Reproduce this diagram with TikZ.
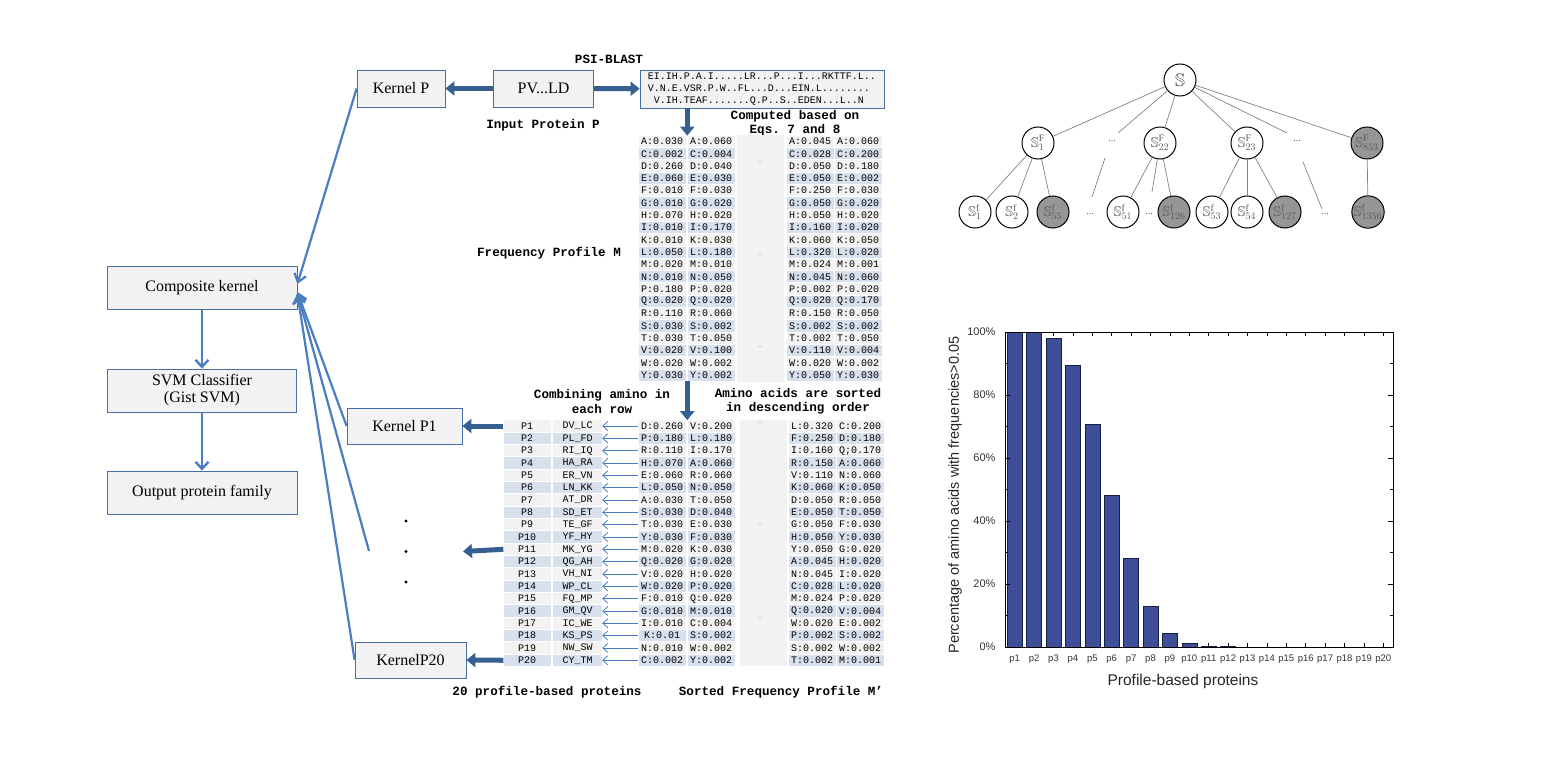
\documentclass[tikz,border=0pt]{standalone}
\usepackage{amssymb}
\usepackage{fontspec}
\setmainfont{Liberation Serif}
\setsansfont{Liberation Sans}
\setmonofont{Liberation Mono}
\usepackage{tikz}
\usetikzlibrary{arrows.meta,positioning}

\definecolor{BoxFill}{RGB}{242,242,242}
\definecolor{BoxLine}{RGB}{70,110,165}
\definecolor{FlowBlue}{RGB}{74,126,193}
\definecolor{FatBlue}{RGB}{55,96,146}
\definecolor{CellGray}{RGB}{242,242,242}
\definecolor{CellBlue}{RGB}{216,224,238}
\definecolor{SetGray}{RGB}{150,150,150}
\definecolor{SetText}{RGB}{90,90,90}
\definecolor{TieGray}{RGB}{130,130,130}
\definecolor{BarBlue}{RGB}{61,77,152}

\begin{document}
\begin{tikzpicture}[x=1pt,y=-1pt]
	\tikzstyle{Box}		= [draw=BoxLine, fill=BoxFill, line width=0.8pt, minimum height=36pt, inner sep=0pt, align=center, font=\fontsize{16}{17}\selectfont]
	\tikzstyle{Cell}	= [minimum width=47pt, minimum height=11.3pt, inner sep=0pt, font=\fontsize{10}{11}\ttfamily]
	\tikzstyle{Caption}	= [align=center, font=\fontsize{12.6}{14.5}\ttfamily\bfseries]
	\tikzstyle{Gap}		= [fill=CellGray, minimum width=47pt, minimum height=246pt, inner sep=0pt]
	\tikzstyle{Ellip}	= [text=gray, font=\fontsize{6}{6}\selectfont]
	\tikzstyle{Flow}	= [FlowBlue, line width=2.4pt, -{Straight Barb[length=7pt,width=13pt]}]
	\tikzstyle{Link}	= [FlowBlue, line width=2.2pt, -{Straight Barb[length=8pt,width=12pt]}]
	\tikzstyle{Fat}		= [FatBlue, line width=5pt, -{Triangle[length=9pt,width=14pt]}]
	\tikzstyle{Tiny}	= [FlowBlue, line width=0.8pt, -{Straight Barb[length=5pt,width=9pt]}]
	\tikzstyle{Set}		= [circle, draw, line width=1pt, fill=white, minimum size=32pt, inner sep=0pt, text=SetText, font=\fontsize{14}{14}\selectfont]
	\tikzstyle{Hit}		= [fill=SetGray]
	\tikzstyle{Tie}		= [TieGray, line width=0.7pt]
	\tikzstyle{More}	= [text=SetText, font=\fontsize{10}{10}\selectfont]
	\tikzstyle{Axis}	= [text=black!80, font=\fontsize{11}{11}\sffamily]

	\useasboundingbox (0,0) rectangle (1557,778);

	% pipeline
	\node (comp) at (202,288) [Box, minimum width=190pt, minimum height=43pt] {Composite kernel};
	\node (svm) at (202,390.5) [Box, minimum width=189pt, minimum height=43pt] {SVM Classifier\\(Gist SVM)};
	\node (out) at (202,492.5) [Box, minimum width=190pt, minimum height=43pt] {Output protein family};
	\draw [Flow] (comp) -- (svm);
	\draw [Flow] (svm) -- (out);

	% input protein and kernels
	\node (kp) at (401,88.5) [Box, minimum width=88pt, minimum height=37pt] {Kernel P};
	\node (seq) at (543.5,88.5) [Box, minimum width=100pt, minimum height=37pt] {PV...LD};
	\node (msa) at (762,89) [Box, minimum width=244pt, minimum height=38pt, align=left, font=\fontsize{10}{12.3}\ttfamily]
		{EI.IH.P.A.I.....LR...P...I...RKTTF.L..\\V.N.E.VSR.P.W..FL...D...EIN.L........\\\hphantom{V}V.IH.TEAF.......Q.P..S..EDEN...L..N};
	\node (kp1) at (404.5,426) [Box, minimum width=115pt] {Kernel P1};
	\node (kp20) at (410.5,660) [Box, minimum width=111pt] {KernelP20};
	\node (d1) at (406,521) [circle, fill, inner sep=1.2pt] {};
	\node (d2) at (406,551.5) [circle, fill, inner sep=1.2pt] {};
	\node (d3) at (406,582) [circle, fill, inner sep=1.2pt] {};
	\coordinate (gap) at (369,551);

	\node (psi) at (609,59) [Caption] {PSI-BLAST};
	\node (inp) at (543,125) [Caption] {Input Protein P};
	\node (eqs) at (795,123) [Caption, font=\fontsize{12.6}{13.5}\ttfamily\bfseries] {Computed based on\\Eqs. 7 and 8};
	\node (fpm) at (549,253) [Caption] {Frequency Profile M};
	\node (comb) at (602,401.5) [Caption] {Combining amino in\\each row};
	\node (sort) at (798,401.5) [Caption] {Amino acids are sorted\\in descending order};
	\node (twenty) at (547,692) [Caption] {20 profile-based proteins};
	\node (sfpm) at (781,692) [Caption] {Sorted Frequency Profile M’};

	% frequency profile M
	\node (mgap) at (760.5,258.5) [Gap] {};
	\node (me1) at (760,162) [Ellip] {...};
	\node (me2) at (760,255) [Ellip] {...};
	\node (me3) at (760,347) [Ellip] {...};
	\foreach \amino/\colA/\colB/\colC/\colD [count=\i] in {
		A/0.030/0.060/0.045/0.060, C/0.002/0.004/0.028/0.200, D/0.260/0.040/0.050/0.180,
		E/0.060/0.030/0.050/0.002, F/0.010/0.030/0.250/0.030, G/0.010/0.020/0.050/0.020,
		H/0.070/0.020/0.050/0.020, I/0.010/0.170/0.160/0.020, K/0.010/0.030/0.060/0.050,
		L/0.050/0.180/0.320/0.020, M/0.020/0.010/0.024/0.001, N/0.010/0.050/0.045/0.060,
		P/0.180/0.020/0.002/0.020, Q/0.020/0.020/0.020/0.170, R/0.110/0.060/0.150/0.050,
		S/0.030/0.002/0.002/0.002, T/0.030/0.050/0.002/0.050, V/0.020/0.100/0.110/0.004,
		W/0.020/0.002/0.020/0.002, Y/0.030/0.002/0.050/0.030} {
		\pgfmathsetmacro{\y}{141.5+12.3*(\i-1)}
		\ifodd\i\relax \def\tone{CellGray}\else \def\tone{CellBlue}\fi
		\node (m\i-1) at (662,\y) [Cell, fill=\tone] {\amino:\colA};
		\node (m\i-2) at (711,\y) [Cell, fill=\tone] {\amino:\colB};
		\node (m\i-3) at (810,\y) [Cell, fill=\tone] {\amino:\colC};
		\node (m\i-4) at (858,\y) [Cell, fill=\tone] {\amino:\colD};
	}

	% sorted profile M'
	\node (sgap) at (763.5,543) [Gap] {};
	\node (se1) at (760,423) [Ellip] {...};
	\node (se2) at (760,524) [Ellip] {...};
	\node (se3) at (760,618) [Ellip] {...};
	\foreach \pl/\sq/\colA/\colB/\colC/\colD [count=\i] in {
		P1/DV\_LC/D:0.260/V:0.200/L:0.320/C:0.200, P2/PL\_FD/P:0.180/L:0.180/F:0.250/D:0.180,
		P3/RI\_IQ/R:0.110/I:0.170/I:0.160/Q;0.170, P4/HA\_RA/H:0.070/A:0.060/R:0.150/A:0.060,
		P5/ER\_VN/E:0.060/R:0.060/V:0.110/N:0.060, P6/LN\_KK/L:0.050/N:0.050/K:0.060/K:0.050,
		P7/AT\_DR/A:0.030/T:0.050/D:0.050/R:0.050, P8/SD\_ET/S:0.030/D:0.040/E:0.050/T:0.050,
		P9/TE\_GF/T:0.030/E:0.030/G:0.050/F:0.030, P10/YF\_HY/Y:0.030/F:0.030/H:0.050/Y:0.030,
		P11/MK\_YG/M:0.020/K:0.030/Y:0.050/G:0.020, P12/QG\_AH/Q:0.020/G:0.020/A:0.045/H:0.020,
		P13/VH\_NI/V:0.020/H:0.020/N:0.045/I:0.020, P14/WP\_CL/W:0.020/P:0.020/C:0.028/L:0.020,
		P15/FQ\_MP/F:0.010/Q:0.020/M:0.024/P:0.020, P16/GM\_QV/G:0.010/M:0.010/Q:0.020/V:0.004,
		P17/IC\_WE/I:0.010/C:0.004/W:0.020/E:0.002, P18/KS\_PS/K:0.01/S:0.002/P:0.002/S:0.002,
		P19/NW\_SW/N:0.010/W:0.002/S:0.002/W:0.002, P20/CY\_TM/C:0.002/Y:0.002/T:0.002/M:0.001} {
		\pgfmathsetmacro{\y}{426+12.33*(\i-1)}
		\ifodd\i\relax \def\tone{CellGray}\else \def\tone{CellBlue}\fi
		\node (p\i) at (527,\y) [Cell, fill=\tone] {\pl};
		\node (q\i) at (577.5,\y) [Cell, fill=\tone, minimum width=49pt] {\sq};
		\node (s\i-1) at (662,\y) [Cell, fill=\tone] {\colA};
		\node (s\i-2) at (711,\y) [Cell, fill=\tone] {\colB};
		\node (s\i-3) at (812,\y) [Cell, fill=\tone] {\colC};
		\node (s\i-4) at (860,\y) [Cell, fill=\tone] {\colD};
		\draw [Tiny] (s\i-1) -- (q\i);
	}

	% thick arrows
	\draw [Fat] (seq) -- (kp);
	\draw [Fat] (seq) -- (msa);
	\draw [Fat] (msa.south -| m1-2.west) -- (m1-2.north west);
	\draw [Fat] (m20-2.south west) -- (s1-2.north west);
	\coordinate (gap11) at (463,551.5);
	\draw [Fat] (p1.west) -- (kp1.east);
	\draw [Fat] (p11.west) -- (gap11);
	\draw [Fat] (p20.west) -- (kp20.east);

	% kernels into composite kernel
	\draw [Link] (kp.west) -- ([yshift=4pt]comp.east);
	\draw [Link] (kp1.west) -- ([yshift=-4pt]comp.east);
	\draw [Link] (gap) -- ([yshift=-5pt]comp.east);
	\draw [Link] (kp20.west) -- ([yshift=-6pt]comp.east);

	% family tree
	\node (root) at (1180,80) [Set, font=\fontsize{18}{18}\selectfont] {$\mathbb{S}$};
	\node (F1) at (1038,143) [Set] {$\mathbb{S}^{\mathrm{F}}_{1}$};
	\node (Fm1) at (1112,141) [More] {...};
	\node (F22) at (1160,143) [Set] {$\mathbb{S}^{\mathrm{F}}_{22}$};
	\node (F23) at (1247,143) [Set] {$\mathbb{S}^{\mathrm{F}}_{23}$};
	\node (Fm2) at (1297,141) [More] {...};
	\node (F853) at (1367,143) [Set, Hit] {$\mathbb{S}^{\mathrm{F}}_{853}$};
	\node (f1) at (975,212) [Set] {$\mathbb{S}^{\mathrm{f}}_{1}$};
	\node (f2) at (1012,212) [Set] {$\mathbb{S}^{\mathrm{f}}_{2}$};
	\node (f55) at (1053,212) [Set, Hit] {$\mathbb{S}^{\mathrm{f}}_{55}$};
	\node (fm1) at (1090,214) [More] {...};
	\node (f51) at (1123,212) [Set] {$\mathbb{S}^{\mathrm{f}}_{51}$};
	\node (fm2) at (1149,214) [More] {...};
	\node (f126) at (1174,212) [Set, Hit] {$\mathbb{S}^{\mathrm{f}}_{126}$};
	\node (f53) at (1212,212) [Set] {$\mathbb{S}^{\mathrm{f}}_{53}$};
	\node (f54) at (1247,212) [Set] {$\mathbb{S}^{\mathrm{f}}_{54}$};
	\node (f127) at (1285,212) [Set, Hit] {$\mathbb{S}^{\mathrm{f}}_{127}$};
	\node (fm3) at (1325,214) [More] {...};
	\node (f1356) at (1368,212) [Set, Hit] {$\mathbb{S}^{\mathrm{f}}_{1356}$};
	\coordinate (t1) at (1118,133);
	\coordinate (t2) at (1287,133);
	\coordinate (t3) at (1152,192);
	\coordinate (t4) at (1105,158);
	\coordinate (t5) at (1092,197);
	\coordinate (t6) at (1303,162);
	\coordinate (t7) at (1322,209);
	\foreach \n in {F1,t1,F22,F23,t2,F853} \draw [Tie] (root) -- (\n);
	\foreach \n in {f1,f2,f55} \draw [Tie] (F1) -- (\n);
	\foreach \n in {f51,t3,f126} \draw [Tie] (F22) -- (\n);
	\foreach \n in {f53,f54,f127} \draw [Tie] (F23) -- (\n);
	\draw [Tie] (F853) -- (f1356);
	\draw [Tie] (t4) -- (t5);
	\draw [Tie] (t6) -- (t7);

	% bar chart
	\foreach \i in {1,...,20} {
		\draw [line width=0.6pt] ({1005+19.4*(\i-0.5)},332) -- ++(0,4);
		\draw [line width=0.6pt] ({1005+19.4*(\i-0.5)},647) -- ++(0,-4);
		\node (c\i) at ({1005+19.4*(\i-0.5)},659.5) [Axis, font=\fontsize{9.5}{10}\sffamily] {p\i};
	}
	\foreach \h [count=\i] in {100,100,98,89.3,70.8,48.3,28.2,13,4.3,1.2,0.3,0.1}
		\draw [fill=BarBlue, draw=black!60!BarBlue, line width=0.6pt] ({1005+19.4*(\i-0.5)-7.5},647) rectangle ({1005+19.4*(\i-0.5)+7.5},{647-3.15*\h});
	\foreach \v in {0,20,...,100} {
		\draw [line width=0.6pt] (1005,{647-3.15*\v}) -- ++(5,0);
		\draw [line width=0.6pt] (1393,{647-3.15*\v}) -- ++(-5,0);
		\node (y\v) at (999,{647-3.15*\v}) [Axis, anchor=east] {\v\%};
	}
	\foreach \v in {10,30,...,90} {
		\draw [line width=0.6pt] (1005,{647-3.15*\v}) -- ++(3,0);
		\draw [line width=0.6pt] (1393,{647-3.15*\v}) -- ++(-3,0);
	}
	\draw [line width=0.9pt] (1005,332) rectangle (1393,647);
	\node (xt) at (1183,681) [font=\fontsize{15.5}{16}\sffamily, text=black!85] {Profile-based proteins};
	\node (yt) at (955,495) [rotate=90, font=\fontsize{14.5}{15}\sffamily, text=black!85] {Percentage of amino acids with frequencies>0.05};
\end{tikzpicture}
\end{document}
